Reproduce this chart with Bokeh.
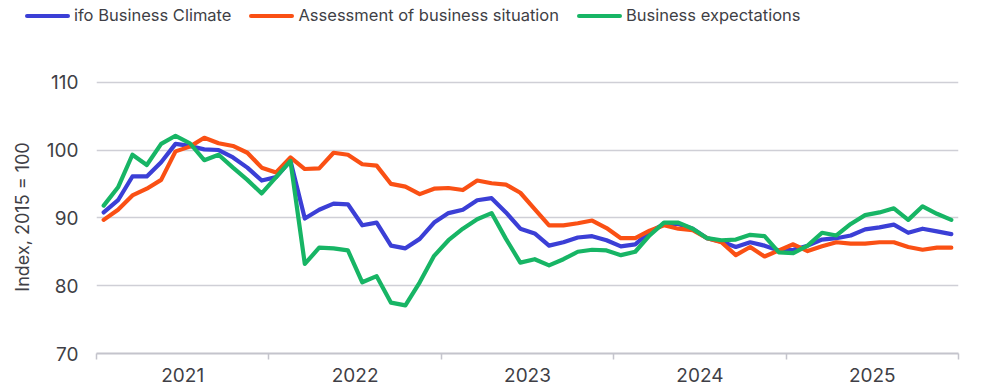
from bokeh.plotting import figure
from bokeh.layouts import column
from bokeh.models import FixedTicker, Range1d, ColumnDataSource, Div
from bokeh.embed import file_html
from bokeh.resources import INLINE

year_labels = ["2021", "2022", "2023", "2024", "2025"]

climate = [90.8, 92.6, 96.1, 96.1, 98.2, 100.9, 100.6, 100.1, 100.0, 98.9, 97.4, 95.5,
           96.0, 98.4, 89.9, 91.2, 92.1, 92.0, 88.9, 89.3, 85.9, 85.5, 86.9, 89.3,
           90.7, 91.2, 92.6, 92.9, 90.8, 88.4, 87.7, 85.9, 86.4, 87.1, 87.3, 86.7,
           85.8, 86.1, 87.9, 89.1, 89.1, 88.4, 87.0, 86.5, 85.7, 86.4, 85.9, 85.2,
           85.3, 85.9, 86.8, 87.0, 87.4, 88.3, 88.6, 89.0, 87.8, 88.4, 88.0, 87.6]

situation = [89.7, 91.2, 93.3, 94.3, 95.6, 99.8, 100.5, 101.8, 101.0, 100.6, 99.6, 97.4,
             96.7, 98.9, 97.2, 97.3, 99.6, 99.3, 97.9, 97.7, 95.0, 94.6, 93.5, 94.3,
             94.4, 94.1, 95.5, 95.1, 94.9, 93.7, 91.3, 88.9, 88.9, 89.2, 89.6, 88.5,
             87.0, 87.0, 88.1, 88.9, 88.4, 88.2, 87.0, 86.4, 84.5, 85.7, 84.3, 85.2,
             86.1, 85.1, 85.8, 86.4, 86.2, 86.2, 86.4, 86.4, 85.7, 85.3, 85.6, 85.6]

expectations = [91.8, 94.5, 99.3, 97.8, 100.9, 102.1, 101.0, 98.5, 99.3, 97.4, 95.6, 93.6,
                96.0, 98.4, 83.2, 85.6, 85.5, 85.2, 80.5, 81.4, 77.5, 77.1, 80.5, 84.4,
                86.7, 88.4, 89.8, 90.7, 86.9, 83.4, 83.9, 83.0, 83.9, 85.0, 85.3, 85.2,
                84.5, 85.0, 87.4, 89.3, 89.3, 88.4, 87.0, 86.7, 86.8, 87.5, 87.3, 84.9,
                84.8, 85.9, 87.8, 87.4, 89.1, 90.4, 90.8, 91.4, 89.7, 91.7, 90.6, 89.7]

series_names = ["ifo Business Climate", "Assessment of business situation", "Business expectations"]
series_colors = ["#3B3FD6", "#FA5014", "#17B565"]
y_ticks = [70, 80, 90, 100, 110]

n = len(climate)
months = [i + 0.5 for i in range(n)]
source = ColumnDataSource(dict(x=months, climate=climate, situation=situation,
                               expectations=expectations))

TEXT = "#3f3f46"
FONT = "Inter"
LINE_W = 4.2
LEG_H = 32

# ---------- legend (HTML strip above the chart) ----------
items_html = "".join(
    f'<span style="display:inline-block;width:45px;height:4.5px;border-radius:2.5px;'
    f'background:{c};margin-right:4px;flex:none"></span>'
    f'<span style="margin-right:18px;flex:none">{nm}</span>'
    for nm, c in zip(series_names, series_colors))
legend_div = Div(
    text=(f'<div style="display:flex;align-items:center;height:{LEG_H}px;padding-left:25px;'
          f'font-family:{FONT};font-size:16.5px;color:{TEXT};white-space:nowrap">'
          f'{items_html}</div>'),
    width=1000, height=LEG_H, margin=0)

# ---------- main chart ----------
p = figure(width=1000, height=388 - LEG_H, output_backend="svg", toolbar_location=None,
           x_range=Range1d(0, n), y_range=Range1d(70, 110.25),
           min_border_left=96, min_border_right=42, min_border_top=48,
           min_border_bottom=35)
p.outline_line_color = None

for col, color in zip(["climate", "situation", "expectations"], series_colors):
    p.line("x", col, source=source, line_color=color, line_width=LINE_W,
           line_join="round", line_cap="round")

xa = p.xaxis[0]
xa.ticker = FixedTicker(ticks=[6 + 12 * k for k in range(len(year_labels))],
                        minor_ticks=[12 * k for k in range(len(year_labels) + 1)])
xa.major_label_overrides = {6 + 12 * k: lab for k, lab in enumerate(year_labels)}
xa.axis_line_color = "#c4c4cc"
xa.axis_line_width = 2
xa.major_tick_line_color = None
xa.major_tick_out = 6
xa.major_tick_in = 0
xa.minor_tick_line_color = "#c4c4cc"
xa.minor_tick_line_width = 1.5
xa.minor_tick_out = 6
xa.minor_tick_in = 0
xa.major_label_standoff = 8
xa.major_label_text_font = FONT
xa.major_label_text_font_size = "19px"
xa.major_label_text_color = TEXT

ya = p.yaxis[0]
ya.ticker = FixedTicker(ticks=y_ticks)
ya.axis_line_color = None
ya.major_tick_line_color = None
ya.minor_tick_line_color = None
ya.major_tick_out = 0
ya.major_label_standoff = 18
ya.major_label_text_font = FONT
ya.major_label_text_font_size = "19px"
ya.major_label_text_color = TEXT
ya.axis_label = "Index, 2015 = 100"
ya.axis_label_text_font = FONT
ya.axis_label_text_font_size = "18px"
ya.axis_label_text_font_style = "normal"
ya.axis_label_text_color = TEXT
ya.axis_label_standoff = 11

p.xgrid.grid_line_color = None
p.ygrid.ticker = FixedTicker(ticks=y_ticks)
p.ygrid.grid_line_color = "#cfcfd6"
p.ygrid.grid_line_width = 1.5

layout = column(legend_div, p, spacing=0)

html = file_html(layout, INLINE)
html = html.replace("<head>", "<head><style>html,body{overflow:hidden}</style>", 1)
open("out.html", "w").write(html)
